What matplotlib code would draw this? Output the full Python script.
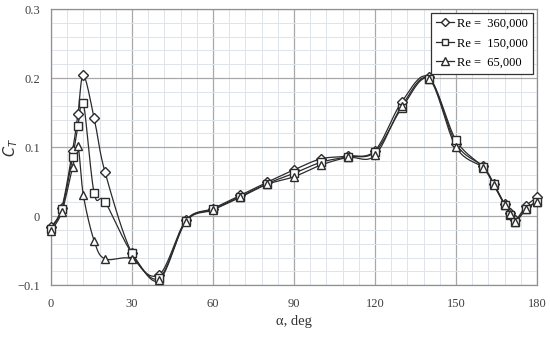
import numpy as np
import matplotlib
matplotlib.use('Agg')
import matplotlib.pyplot as plt
from matplotlib.ticker import MultipleLocator

plt.rcParams['font.family'] = ['Liberation Serif', 'DejaVu Serif']

# angulos (iguais para as tres series)
alpha = [0, 4, 8, 10, 12, 16, 20, 30, 40, 50, 60, 70, 80, 90, 100, 110, 120,
         130, 140, 150, 160, 164, 168, 170, 172, 176, 180]

# Coeficiente C_T
ct_360k = [-0.016, 0.012, 0.095, 0.148, 0.204, 0.142, 0.064, -0.054, -0.085,
           -0.006, 0.011, 0.030, 0.049, 0.067, 0.083, 0.087, 0.095,
           0.166, 0.201, 0.105, 0.072, 0.047, 0.017, 0.004, -0.006, 0.015, 0.027]
ct_150k = [-0.018, 0.010, 0.085, 0.131, 0.164, 0.033, 0.021, -0.054, -0.090,
           -0.007, 0.010, 0.028, 0.047, 0.062, 0.078, 0.086, 0.093,
           0.157, 0.199, 0.110, 0.071, 0.046, 0.016, 0.002, -0.008, 0.011, 0.021]
ct_65k = [-0.021, 0.006, 0.071, 0.101, 0.030, -0.036, -0.062, -0.062, -0.093,
          -0.008, 0.009, 0.027, 0.046, 0.057, 0.074, 0.085, 0.088,
          0.160, 0.199, 0.100, 0.070, 0.045, 0.016, 0.003, -0.008, 0.010, 0.021]

series = [('Re =  360,000', ct_360k, 'D', 5.0),
          ('Re =  150,000', ct_150k, 's', 5.5),
          ('Re =  65,000', ct_65k, '^', 6.0)]


# Suaviza a linha como no Excel (Catmull-Rom)
def suavizar(x, y, n=20):
    x = np.asarray(x, float)
    y = np.asarray(y, float)
    px = np.concatenate([[x[0]], x, [x[-1]]])
    py = np.concatenate([[y[0]], y, [y[-1]]])
    xs, ys = [], []
    t = np.linspace(0, 1, n, endpoint=False)
    for i in range(1, len(px) - 2):
        x0, x1, x2, x3 = px[i-1:i+3]
        y0, y1, y2, y3 = py[i-1:i+3]
        cx1, cy1 = x1 + (x2 - x0) / 6, y1 + (y2 - y0) / 6
        cx2, cy2 = x2 - (x3 - x1) / 6, y2 - (y3 - y1) / 6
        b0 = (1 - t) ** 3
        b1 = 3 * (1 - t) ** 2 * t
        b2 = 3 * (1 - t) * t ** 2
        b3 = t ** 3
        xs.append(b0 * x1 + b1 * cx1 + b2 * cx2 + b3 * x2)
        ys.append(b0 * y1 + b1 * cy1 + b2 * cy2 + b3 * y2)
    xs.append([x[-1]])
    ys.append([y[-1]])
    return np.concatenate(xs), np.concatenate(ys)


fig = plt.figure(figsize=(5.5, 3.37), dpi=100)
ax = fig.add_axes([0.0927, 0.154, 0.8836, 0.819])

cor = '#2b2b2b'
for nome, ct, mk, ms in series:
    xs, ys = suavizar(alpha, ct)
    ax.plot(xs, ys, color=cor, lw=0.9, zorder=3)
    ax.plot(alpha, ct, linestyle='none', marker=mk, ms=ms, mfc='white',
            mec=cor, mew=1.0, zorder=4, clip_on=False)
    ax.plot([], [], color=cor, lw=0.9, marker=mk, ms=ms - 0.5, mfc='white',
            mec=cor, mew=1.0, label=nome)

ax.set_xlim(0, 180)
ax.set_ylim(-0.1, 0.3)
ax.xaxis.set_major_locator(MultipleLocator(30))
ax.xaxis.set_minor_locator(MultipleLocator(6))
ax.yaxis.set_major_locator(MultipleLocator(0.1))
ax.yaxis.set_minor_locator(MultipleLocator(0.02))
ax.set_yticks([-0.1, 0, 0.1, 0.2, 0.3])
ax.set_yticklabels(['\u22120.1', '0', '0.1', '0.2', '0.3'])

ax.grid(which='major', color='#a8a8a8', lw=0.9, zorder=1)
ax.grid(which='minor', color='#dde4ea', lw=0.7, zorder=0)
ax.set_axisbelow(True)
ax.tick_params(which='both', length=0, labelsize=9, labelcolor='#404040')
ax.tick_params(axis='y', pad=8)
ax.tick_params(axis='x', pad=9)
for s in ax.spines.values():
    s.set_color('#909090')
    s.set_linewidth(0.9)

ax.set_xlabel('\u03b1, deg', fontsize=10.5, color='#333333', labelpad=4)
ax.set_ylabel('$C_T$', fontsize=10.5, color='#333333')
ax.yaxis.set_label_coords(-0.064, 0.5)

leg = ax.legend(loc='upper right', fontsize=9, frameon=True, fancybox=False,
                edgecolor='#333333', borderaxespad=0.3, handlelength=1.4,
                handletextpad=0.3, labelspacing=0.6, borderpad=0.4,
                framealpha=1)
leg.get_frame().set_linewidth(0.9)

plt.savefig('out.png', dpi=100)
